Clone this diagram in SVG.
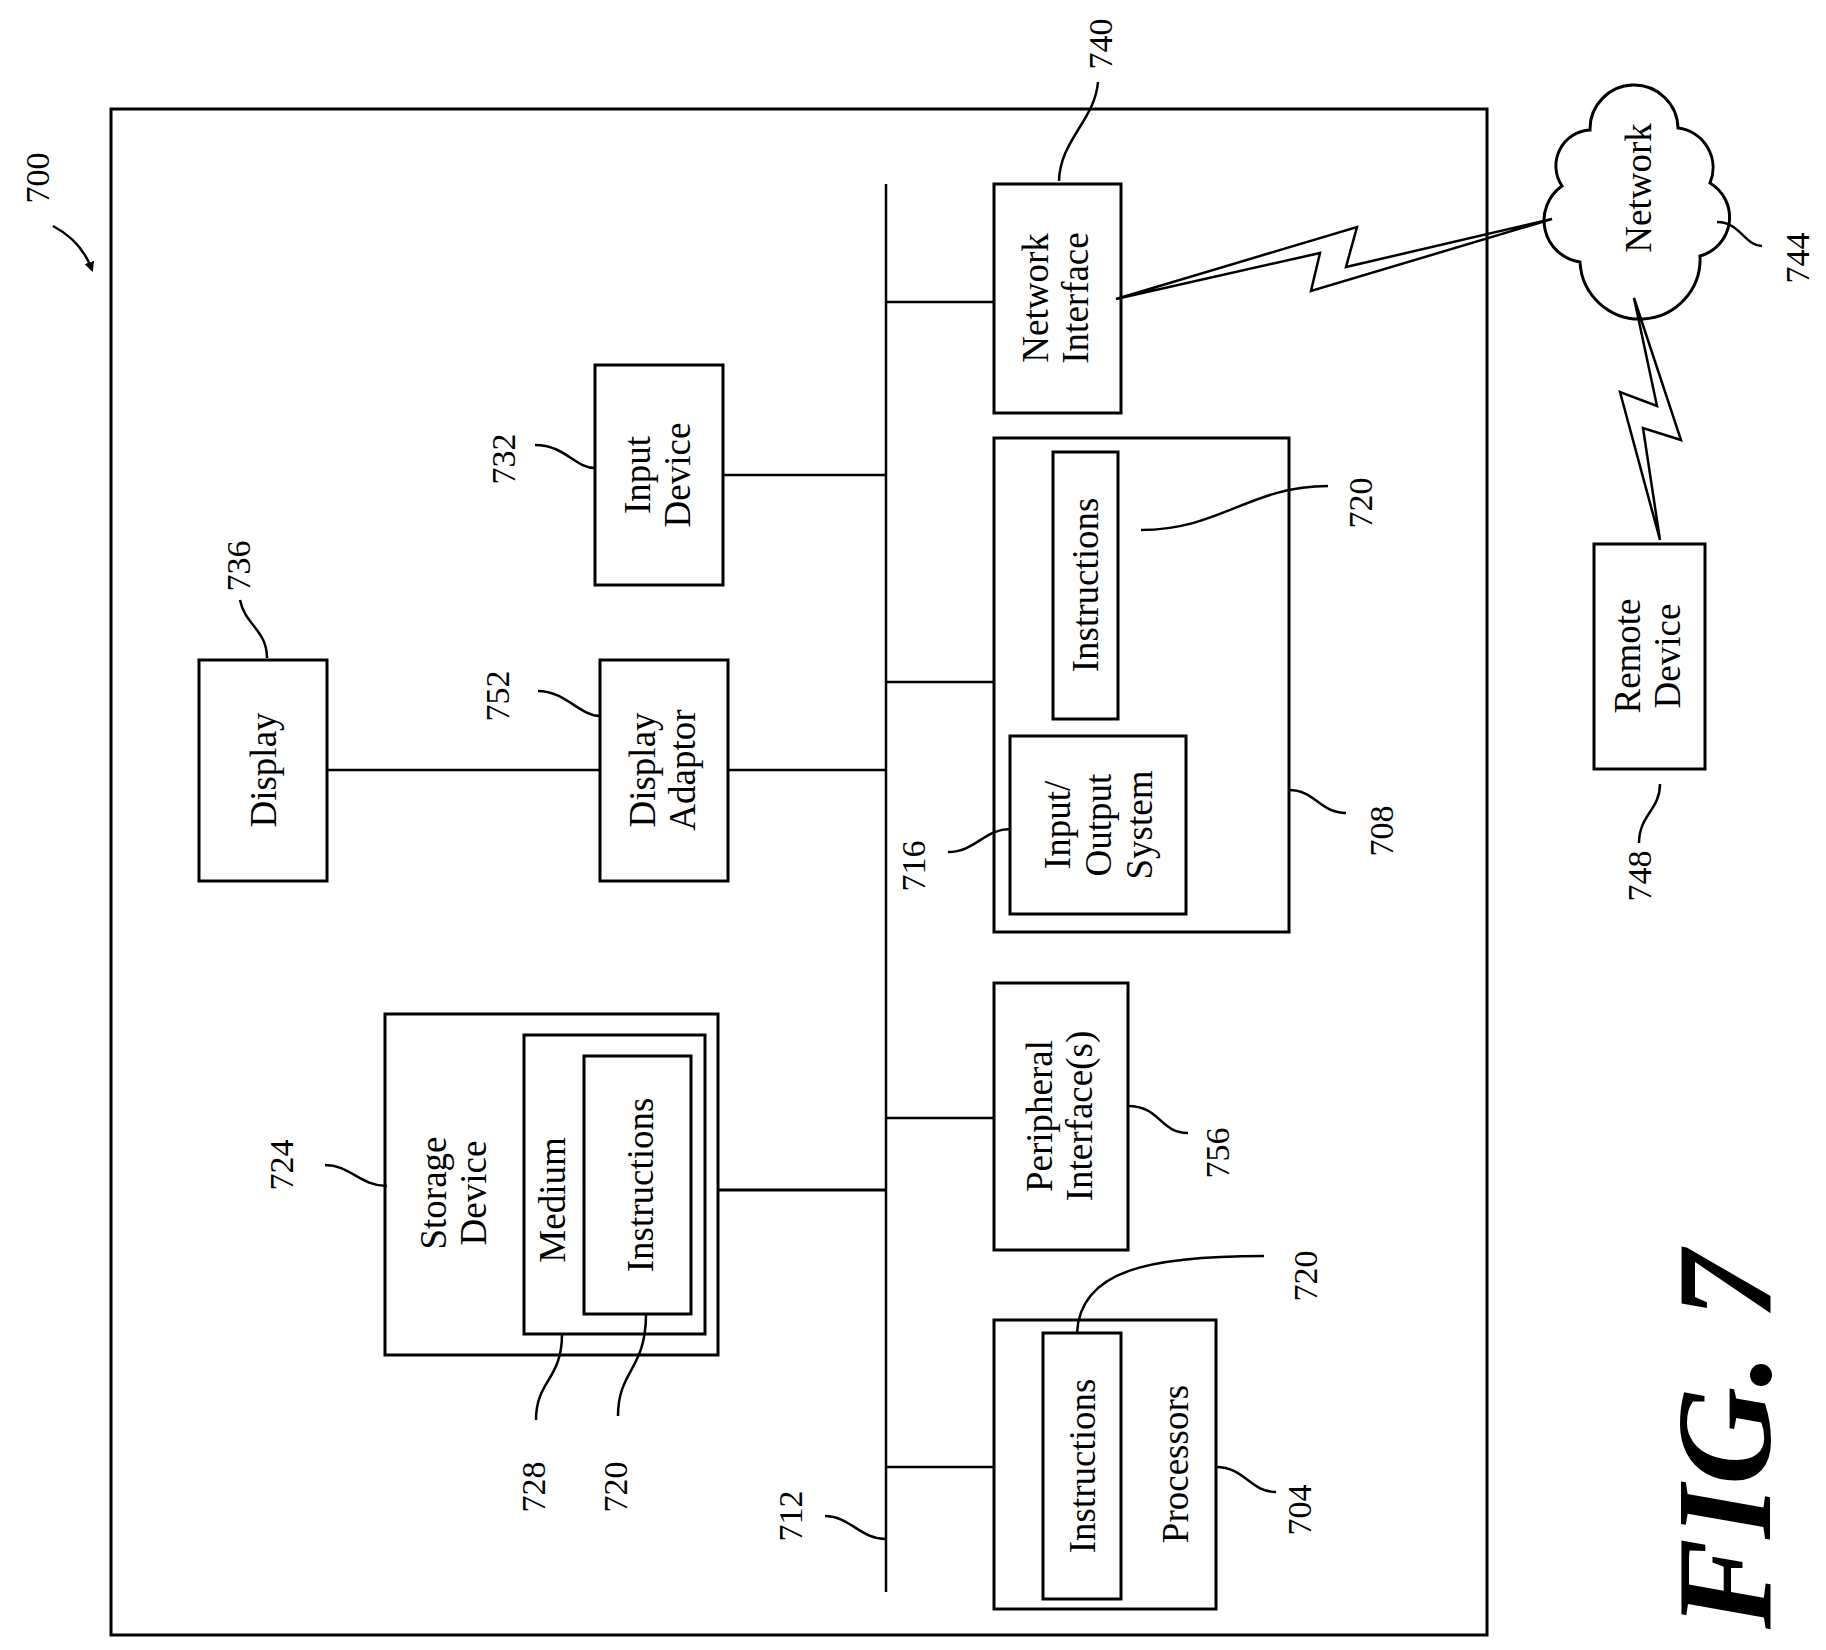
<svg xmlns="http://www.w3.org/2000/svg" width="1826" height="1650" viewBox="0 0 1826 1650">
<style>
.b{fill:none;stroke:#000;stroke-width:3}
.c{fill:none;stroke:#000;stroke-width:2.5}
.l{fill:none;stroke:#000;stroke-width:2.5}
text{font-family:"Liberation Serif","Times New Roman",serif;font-size:37px;fill:#000;text-anchor:middle}
.n{font-size:34px}
</style>
<defs><marker id="ah" markerWidth="10" markerHeight="10" refX="8" refY="5" orient="auto" markerUnits="userSpaceOnUse" viewBox="0 0 10 10"><path d="M0,0 L10,5 L0,10 Z" fill="#000"/></marker></defs>
<rect x="0" y="0" width="1826" height="1650" fill="#fff"/>
<rect id="frame" class="b" x="111" y="109" width="1376" height="1526"/>
<g id="connectors">
<line class="c" x1="886" y1="184" x2="886" y2="1592"/>
<line class="c" x1="886" y1="302" x2="994" y2="302"/>
<line class="c" x1="723" y1="475" x2="886" y2="475"/>
<line class="c" x1="886" y1="682" x2="994" y2="682"/>
<line class="c" x1="327" y1="770" x2="600" y2="770"/>
<line class="c" x1="728" y1="770" x2="886" y2="770"/>
<line class="b" x1="718" y1="1190" x2="886" y2="1190"/>
<line class="c" x1="886" y1="1118" x2="994" y2="1118"/>
<line class="c" x1="886" y1="1467" x2="994" y2="1467"/>
<polygon class="c" points="1116,299 1320,253 1311,291 1552,219 1346,267 1357,227"/>
<polygon class="c" points="1634,298 1657,406 1620,392 1660,540 1643,428 1681,440"/>
</g>
<g id="leaders">
<path class="l" d="M53,226 C70,235 85,250 92,270" marker-end="url(#ah)"/>
<path class="l" d="M1059,181 C1060,140 1095,120 1098,82"/>
<path class="l" d="M1717,222 C1740,222 1745,246 1762,246"/>
<path class="l" d="M595,468 C575,468 565,445 535,445"/>
<path class="l" d="M267,658 C267,630 245,625 240,600"/>
<path class="l" d="M600,716 C580,716 565,691 538,691"/>
<path class="l" d="M1141,530 C1220,530 1250,486 1328,486"/>
<path class="l" d="M1010,829 C985,829 975,852 948,852"/>
<path class="l" d="M1289,790 C1315,790 1320,813 1346,813"/>
<path class="l" d="M1660,784 C1660,810 1639,815 1639,843"/>
<path class="l" d="M387,1186 C360,1186 350,1165 325,1165"/>
<path class="l" d="M1128,1106 C1160,1106 1160,1133 1188,1133"/>
<path class="l" d="M1077,1333 C1080,1270 1150,1256 1264,1256"/>
<path class="l" d="M562,1334 C562,1380 536,1380 536,1420"/>
<path class="l" d="M646,1314 C646,1370 618,1370 618,1416"/>
<path class="l" d="M886,1539 C860,1539 850,1516 825,1516"/>
<path class="l" d="M1216,1467 C1245,1467 1250,1492 1276,1492"/>
</g>
<g id="n704"><rect class="b" x="994" y="1320" width="222" height="289"/><text transform="translate(1175,1464) rotate(-90)" dy="0.35em">Processors</text></g>
<g id="n720a"><rect class="b" x="1043" y="1333" width="78" height="266"/><text transform="translate(1082,1466) rotate(-90)" dy="0.35em">Instructions</text></g>
<g id="n756"><rect class="b" x="994" y="983" width="134" height="267"/><text transform="translate(1061,1116) rotate(-90)"><tspan x="0" dy="-0.25em">Peripheral</tspan><tspan x="0" dy="1.1em">Interface(s)</tspan></text></g>
<g id="n708"><rect class="b" x="994" y="438" width="295" height="494"/></g>
<g id="n720b"><rect class="b" x="1053" y="452" width="65" height="267"/><text transform="translate(1085,585) rotate(-90)" dy="0.35em">Instructions</text></g>
<g id="n716"><rect class="b" x="1010" y="736" width="176" height="178"/><text transform="translate(1098,825) rotate(-90)"><tspan x="0" dy="-0.75em">Input/</tspan><tspan x="0" dy="1.1em">Output</tspan><tspan x="0" dy="1.1em">System</tspan></text></g>
<g id="n740"><rect class="b" x="994" y="184" width="127" height="229"/><text transform="translate(1057,298) rotate(-90)"><tspan x="0" dy="-0.25em">Network</tspan><tspan x="0" dy="1.1em">Interface</tspan></text></g>
<g id="n732"><rect class="b" x="595" y="365" width="128" height="220"/><text transform="translate(659,475) rotate(-90)"><tspan x="0" dy="-0.25em">Input</tspan><tspan x="0" dy="1.1em">Device</tspan></text></g>
<g id="n736"><rect class="b" x="199" y="660" width="128" height="221"/><text transform="translate(263,770) rotate(-90)" dy="0.35em">Display</text></g>
<g id="n752"><rect class="b" x="600" y="660" width="128" height="221"/><text transform="translate(664,770) rotate(-90)"><tspan x="0" dy="-0.25em">Display</tspan><tspan x="0" dy="1.1em">Adaptor</tspan></text></g>
<g id="n724"><rect class="b" x="385" y="1014" width="333" height="341"/><text transform="translate(455,1193) rotate(-90)"><tspan x="0" dy="-0.25em">Storage</tspan><tspan x="0" dy="1.1em">Device</tspan></text></g>
<g id="n728"><rect class="b" x="524" y="1035" width="181" height="299"/><text transform="translate(552,1200) rotate(-90)" dy="0.35em">Medium</text></g>
<g id="n720c"><rect class="b" x="584" y="1056" width="107" height="258"/><text transform="translate(640,1185) rotate(-90)" dy="0.35em">Instructions</text></g>
<g id="n748"><rect class="b" x="1594" y="544" width="111" height="225"/><text transform="translate(1649,656) rotate(-90)"><tspan x="0" dy="-0.25em">Remote</tspan><tspan x="0" dy="1.1em">Device</tspan></text></g>
<g id="n744"><path class="b" d="M1590,130 A44,44 0 0 1 1678,128 A40,40 0 0 1 1710,183 A40,40 0 0 1 1700,256 A58,58 0 0 1 1580,262 A42,42 0 0 1 1562,186 A36,36 0 0 1 1590,130 Z"/><text transform="translate(1638,188) rotate(-90)" dy="0.35em">Network</text></g>
<g id="labels" class="n">
<text class="n" transform="translate(37,178) rotate(-90)" dy="0.35em">700</text>
<text class="n" transform="translate(1100,44) rotate(-90)" dy="0.35em">740</text>
<text class="n" transform="translate(1797,258) rotate(-90)" dy="0.35em">744</text>
<text class="n" transform="translate(503,459) rotate(-90)" dy="0.35em">732</text>
<text class="n" transform="translate(238,566) rotate(-90)" dy="0.35em">736</text>
<text class="n" transform="translate(497,696) rotate(-90)" dy="0.35em">752</text>
<text class="n" transform="translate(1360,503) rotate(-90)" dy="0.35em">720</text>
<text class="n" transform="translate(913,866) rotate(-90)" dy="0.35em">716</text>
<text class="n" transform="translate(1381,831) rotate(-90)" dy="0.35em">708</text>
<text class="n" transform="translate(1639,876) rotate(-90)" dy="0.35em">748</text>
<text class="n" transform="translate(281,1165) rotate(-90)" dy="0.35em">724</text>
<text class="n" transform="translate(1217,1153) rotate(-90)" dy="0.35em">756</text>
<text class="n" transform="translate(1305,1276) rotate(-90)" dy="0.35em">720</text>
<text class="n" transform="translate(533,1487) rotate(-90)" dy="0.35em">728</text>
<text class="n" transform="translate(615,1487) rotate(-90)" dy="0.35em">720</text>
<text class="n" transform="translate(790,1516) rotate(-90)" dy="0.35em">712</text>
<text class="n" transform="translate(1299,1510) rotate(-90)" dy="0.35em">704</text>
</g>
<text transform="translate(1722,1440) rotate(-90)" dy="0.35em" style="font-size:136px;font-weight:bold;font-style:italic">FIG. 7</text>
</svg>
